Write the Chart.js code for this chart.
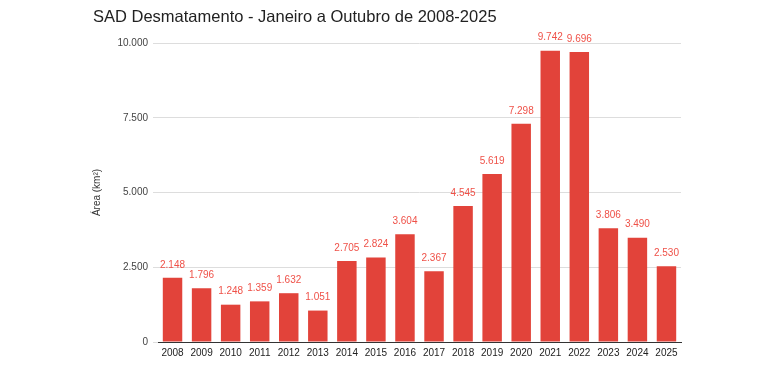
<!DOCTYPE html>
<html>
<head>
<meta charset="utf-8">
<script src="https://cdn.jsdelivr.net/npm/chart.js@4/dist/chart.umd.min.js"></script>
<style>
  html, body { margin: 0; padding: 0; background: #fff; }
  #wrap { width: 783px; height: 374px; }
</style>
</head>
<body>
<div id="wrap"><canvas id="chart" width="783" height="374"></canvas></div>
<script>
// Chart data
const years = ['2008', '2009', '2010', '2011', '2012', '2013', '2014', '2015', '2016',
  '2017', '2018', '2019', '2020', '2021', '2022', '2023', '2024', '2025'];
const areaKm2 = [2148, 1796, 1248, 1359, 1632, 1051, 2705, 2824, 3604,
  2367, 4545, 5619, 7298, 9742, 9696, 3806, 3490, 2530];
const yTicks = [0, 2500, 5000, 7500, 10000];

const chartTitle = 'SAD Desmatamento - Janeiro a Outubro de 2008-2025';
const yTitle = 'Área (km²)';

const fontFamily = '"Liberation Sans", Arial, sans-serif';

// Brazilian style thousands separator
function fmt(v) {
  return v.toString().replace(/\B(?=(\d{3})+(?!\d))/g, '.');
}

// Draws the title and the value labels above each bar
const labelPlugin = {
  id: 'labels',
  afterDatasetsDraw(chart) {
    const ctx = chart.ctx;
    ctx.save();
    ctx.font = '16.5px ' + fontFamily;
    ctx.fillStyle = '#222';
    ctx.textAlign = 'left';
    ctx.textBaseline = 'middle';
    ctx.fillText(chartTitle, 93, 17);

    ctx.font = '10px ' + fontFamily;
    ctx.fillStyle = '#ef5148';
    ctx.textAlign = 'center';
    const meta = chart.getDatasetMeta(0);
    meta.data.forEach((bar, i) => {
      ctx.fillText(fmt(areaKm2[i]), bar.x, bar.y - 13);
    });
    ctx.restore();
  }
};

new Chart(document.getElementById('chart'), {
  type: 'bar',
  data: {
    labels: years,
    datasets: [{
      data: areaKm2,
      backgroundColor: '#e2433a',
      borderWidth: 0,
      barPercentage: 0.67,
      categoryPercentage: 1
    }]
  },
  options: {
    responsive: false,
    animation: false,
    layout: { padding: { top: 43, right: 102, left: 0, bottom: 0 } },
    plugins: {
      legend: { display: false },
      title: { display: false },
      tooltip: { enabled: false }
    },
    scales: {
      x: {
        grid: { display: false, drawTicks: false },
        border: { color: '#333', width: 1 },
        ticks: { color: '#222', font: { family: fontFamily, size: 10 }, padding: 5, maxRotation: 0, autoSkip: false },
        afterFit: s => { s.height = 32; }
      },
      y: {
        min: 0,
        max: 10000,
        afterBuildTicks: s => { s.ticks = yTicks.map(v => ({ value: v })); },
        grid: { color: '#ddd', tickLength: 5 },
        border: { display: false },
        ticks: {
          color: '#444',
          font: { family: fontFamily, size: 10 },
          padding: 5,
          callback: v => fmt(v)
        },
        title: {
          display: true,
          text: yTitle,
          color: '#333',
          font: { family: fontFamily, size: 10 },
          padding: { top: 91, bottom: 0 }
        },
        afterFit: s => { s.width = 158; }
      }
    }
  },
  plugins: [labelPlugin]
});
</script>
</body>
</html>
